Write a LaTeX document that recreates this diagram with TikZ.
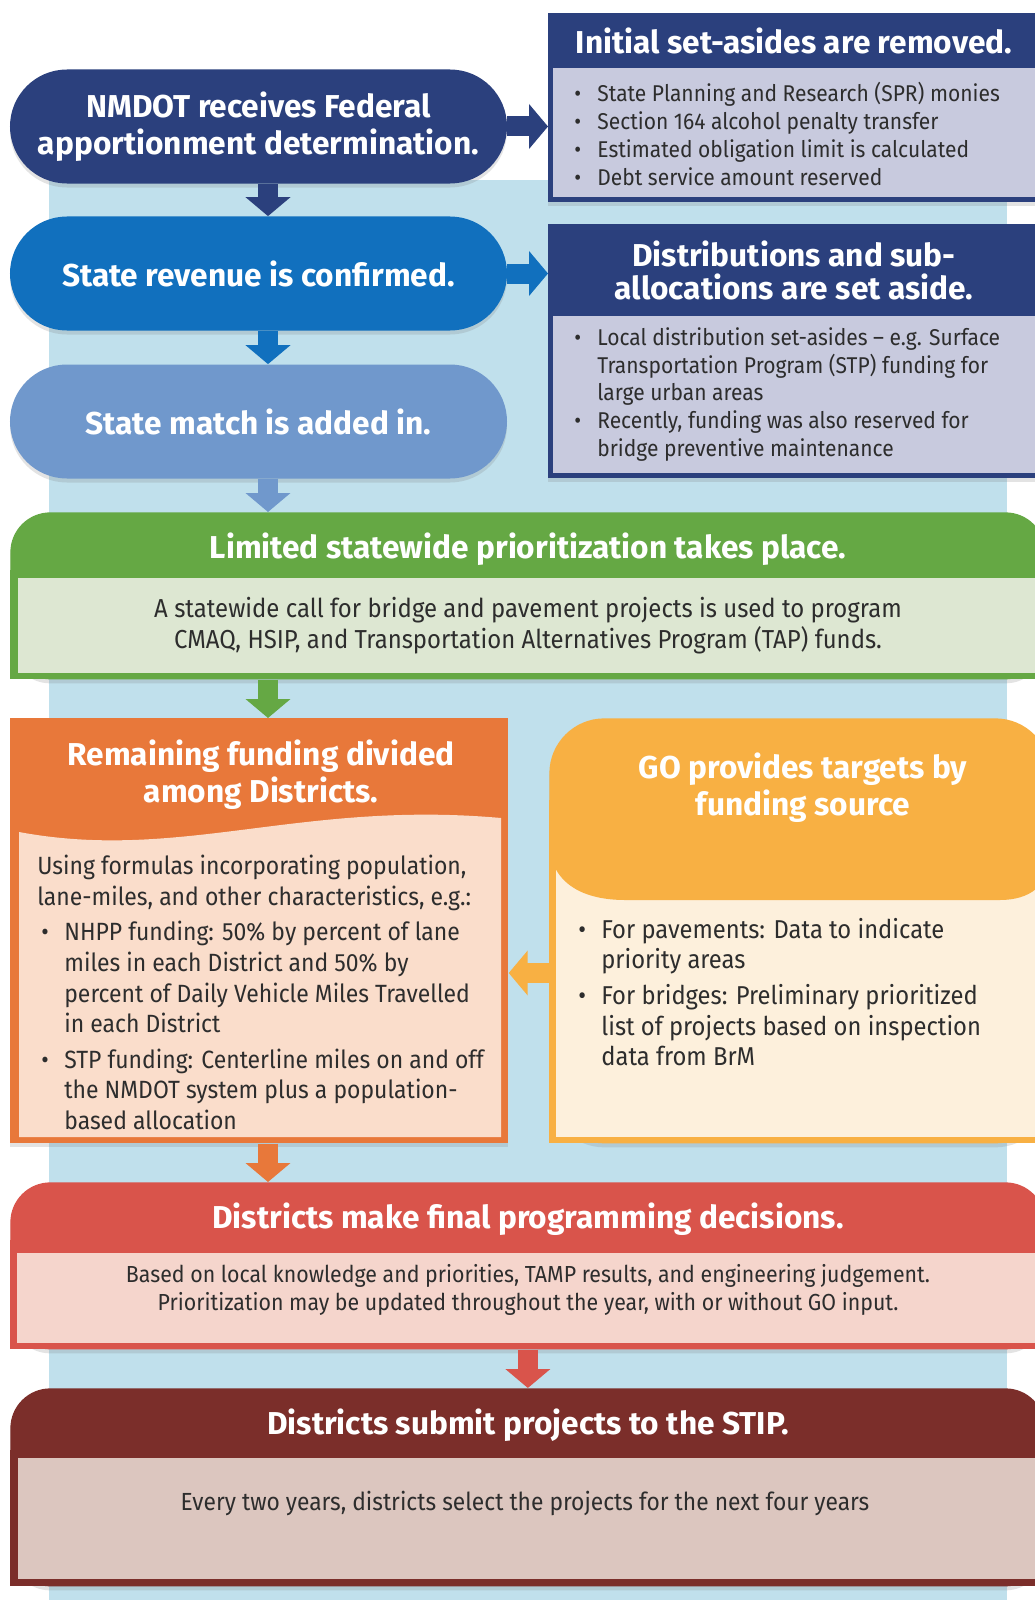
\documentclass[tikz,border=0pt]{standalone}
\usepackage{fontspec}
\setmainfont{Fira Sans}
\newfontfamily\narrowfont{Fira Sans}[FakeStretch=0.92]
\usetikzlibrary{positioning,arrows.meta,shapes.misc,shadows}

\definecolor{navy}{RGB}{43,64,125}
\definecolor{midblue}{RGB}{17,112,190}
\definecolor{steel}{RGB}{112,152,204}
\definecolor{lavender}{RGB}{200,202,222}
\definecolor{band}{RGB}{192,224,236}
\definecolor{leaf}{RGB}{101,168,68}
\definecolor{leafbody}{RGB}{221,231,210}
\definecolor{rust}{RGB}{232,120,58}
\definecolor{peach}{RGB}{250,221,203}
\definecolor{gold}{RGB}{248,176,67}
\definecolor{cream}{RGB}{253,240,220}
\definecolor{brick}{RGB}{217,84,75}
\definecolor{blush}{RGB}{245,213,204}
\definecolor{maroon}{RGB}{123,46,42}
\definecolor{mauve}{RGB}{220,198,191}
\definecolor{txtgray}{RGB}{45,45,45}

\newcommand{\titlefont}{\bfseries\fontsize{18}{21}\selectfont}
\newcommand{\bul}{\makebox[0.46cm][l]{\textbullet}}
\newcommand{\bcont}{\hspace*{0.46cm}}
\newcommand{\bulo}{\hspace*{0.08cm}\bul}
\newcommand{\conto}{\hspace*{0.54cm}}

\begin{document}
\begin{tikzpicture}[
  x=0.2mm, y=-0.2mm,
  >=Latex,
  shade/.style={drop shadow={opacity=0.22, shadow xshift=0pt, shadow yshift=-0.8mm}},
  pill/.style={rounded rectangle, minimum width=9.94cm, minimum height=2.28cm, inner sep=0pt,
    text=white, align=center, font=\titlefont, shade},
  frame/.style={rectangle, inner sep=0pt, anchor=north west, shade},
  title/.style={text=white, align=center, font=\titlefont},
  body/.style={text=txtgray, align=left, inner sep=0pt, font=\narrowfont\fontsize{13}{15.9}\selectfont},
  flow/.style={line width=0.4cm, -{Triangle[width=0.88cm,length=0.38cm]}}
]
\useasboundingbox (0,0) rectangle (1035,1600);
\clip (0,0) rectangle (1035,1600);
\fill[white] (0,0) rectangle (1035,1600);

% light blue spine behind the flow
\fill[band] (49,180) rectangle (1007,1600);
\coordinate (spine) at (268,0);
\coordinate (gy) at (0,973);

% right: set-aside boxes
\node[frame, fill=navy, minimum width=9.94cm, minimum height=3.78cm] (setA) at (548,13) {};
\fill[lavender] (553,68) rectangle (1045,197);
\node[title] (setAt) at (794,41) {Initial set-asides are removed.};
\node[body, anchor=west] (setAb) at (574,134)
{\bul State Planning and Research (SPR) monies\\
 \bul Section 164 alcohol penalty transfer\\
 \bul Estimated obligation limit is calculated\\
 \bul Debt service amount reserved};

\node[frame, fill=navy, minimum width=9.94cm, minimum height=5.08cm] (setB) at (548,224) {};
\fill[lavender] (553,316) rectangle (1045,473);
\node[title, font=\bfseries\fontsize{18}{19}\selectfont] (setBt) at (794,270.5) {Distributions and sub-\\allocations are set aside.};
\node[body, anchor=west] (setBb) at (574,394.5)
{\bul Local distribution set-asides \textendash{} e.g. Surface\\
 \bcont Transportation Program (STP) funding for\\
 \bcont large urban areas\\
 \bul Recently, funding was also reserved for\\
 \bcont bridge preventive maintenance};

% left: revenue pills
\node[pill, fill=navy] (fed) at (258.5,126.5) {NMDOT receives Federal\\apportionment determination.};
\node[pill, fill=midblue] (rev) at (258.5,273.5) {State revenue is confirmed.};
\node[pill, fill=steel] (match) at (258.5,421.5) {State match is added in.};

% statewide prioritization
\node[frame, fill=leaf, rounded corners=0.8cm, minimum width=20.7cm, minimum height=3.34cm] (prio) at (10,512) {};
\fill[leaf] (10,570) rectangle (1045,679);
\fill[leafbody] (18,578) rectangle (1045,673);
\node[title] (priot) at (528,549) {Limited statewide prioritization takes place.};
\node[body, align=center, font=\narrowfont\fontsize{14.8}{17.6}\selectfont] (priob) at (528,625.5)
{A statewide call for bridge and pavement projects is used to program\\
 CMAQ, HSIP, and Transportation Alternatives Program (TAP) funds.};

% district split
\node[frame, fill=rust, minimum width=9.96cm, minimum height=8.5cm] (remain) at (10,718) {};
\fill[peach] (19,832) .. controls (180,862) and (300,800) .. (501,818) -- (501,1137) -- (19,1137) -- cycle;
\node[title] (remaint) at (261,774.5) {Remaining funding divided\\among Districts.};
\node[body, anchor=west, font=\narrowfont\fontsize{14.2}{17.4}\selectfont] (remainb) at (37,992.5)
{Using formulas incorporating population,\\
 lane-miles, and other characteristics, e.g.:\\[0.1cm]
 \bulo NHPP funding: 50\% by percent of lane\\
 \conto miles in each District and 50\% by\\
 \conto percent of Daily Vehicle Miles Travelled\\
 \conto in each District\\[0.1cm]
 \bulo STP funding: Centerline miles on and off\\
 \conto the NMDOT system plus a population-\\
 \conto based allocation};

% GO targets
\node[frame, fill=gold, rounded corners=1.1cm, minimum width=10.02cm, minimum height=8.5cm] (go) at (549,718) {};
\fill[gold] (549,800) rectangle (1050,1143);
\fill[cream] (556,850) rectangle (1050,1137);
\fill[gold] (549,800) -- (549,845) .. controls (552,885) and (585,900) .. (625,900)
  -- (1000,900) .. controls (1030,900) and (1048,885) .. (1050,860) -- (1050,800) -- cycle;
\node[title] (got) at (803,788) {GO provides targets by\\funding source};
\node[body, anchor=west, font=\narrowfont\fontsize{14.7}{17.4}\selectfont] (gob) at (578,992)
{\bul For pavements: Data to indicate\\
 \bcont priority areas\\[0.1cm]
 \bul For bridges: Preliminary prioritized\\
 \bcont list of projects based on inspection\\
 \bcont data from BrM};

% final decisions
\node[frame, fill=brick, rounded corners=0.8cm, minimum width=20.7cm, minimum height=3.34cm] (final) at (10,1182) {};
\fill[brick] (10,1240) rectangle (1045,1349);
\fill[blush] (17,1253) rectangle (1045,1343);
\node[title] (finalt) at (528,1219) {Districts make final programming decisions.};
\node[body, align=center, font=\narrowfont\fontsize{13.2}{16}\selectfont] (finalb) at (528,1290)
{Based on local knowledge and priorities, TAMP results, and engineering judgement.\\
 Prioritization may be updated throughout the year, with or without GO input.};

% STIP
\node[frame, fill=maroon, rounded corners=0.8cm, minimum width=20.7cm, minimum height=3.96cm] (stip) at (10,1388) {};
\fill[maroon] (10,1450) rectangle (1045,1586);
\fill[mauve] (18,1458) rectangle (1045,1579);
\node[title] (stipt) at (528,1425) {Districts submit projects to the STIP.};
\node[body, align=center, font=\narrowfont\fontsize{14.1}{16}\selectfont] (stipb) at (525,1503)
{Every two years, districts select the projects for the next four years};

% connectors
\draw[flow, navy] (fed.south -| spine) -- (rev.north -| spine);
\draw[flow, midblue] (rev.south -| spine) -- (match.north -| spine);
\draw[flow, steel] (match.south -| spine) -- (prio.north -| spine);
\draw[flow, leaf] (prio.south -| spine) -- (remain.north -| spine);
\draw[flow, rust] (remain.south -| spine) -- (final.north -| spine);
\draw[flow, brick] (final.south) -- (stip.north);
\draw[flow, navy] (fed.east) -- (fed.east -| setA.west);
\draw[flow, midblue] (rev.east) -- (rev.east -| setB.west);
\draw[flow, gold] (go.west |- gy) -- (remain.east |- gy);

\end{tikzpicture}
\end{document}
